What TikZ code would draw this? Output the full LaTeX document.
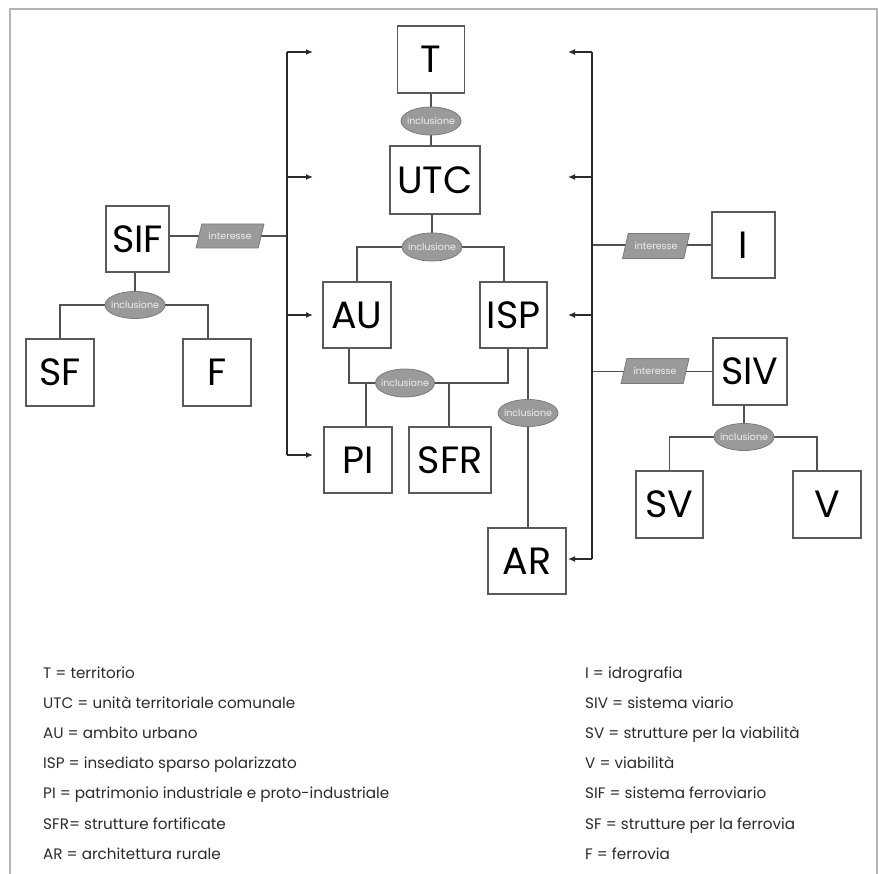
\documentclass[tikz,border=0pt]{standalone}
\usepackage{fontspec}
\setmainfont{Poppins}
\usetikzlibrary{shapes.geometric,arrows.meta,backgrounds}
\definecolor{boxc}{HTML}{5A5A5A}
\definecolor{linec}{HTML}{505050}
\definecolor{ellf}{HTML}{9A9A9A}
\definecolor{ellc}{HTML}{7A7A7A}
\definecolor{framec}{HTML}{B4B4B4}
\definecolor{legc}{HTML}{2A2A2A}
\definecolor{arrc}{HTML}{2A2A2A}
\newcommand{\inclt}{\makebox[30pt][c]{inclusione}}
\newcommand{\intert}{\makebox[30pt][c]{interesse}}
\begin{document}
\begin{tikzpicture}[x=1pt,y=-1pt,
  box/.style={draw=boxc, line width=1.3pt, fill=white, inner sep=0pt, text=black,
    font=\fontsize{38}{38}\selectfont, minimum height=67pt},
  incl/.style={ellipse, draw=ellc, fill=ellf, line width=0.8pt, minimum width=60pt,
    minimum height=28pt, inner sep=0pt, text=white!94!black, font=\fontsize{9.5}{10}\selectfont},
  inter/.style={trapezium, trapezium left angle=67, trapezium right angle=113,
    trapezium stretches=true, draw=ellc, fill=ellf, line width=0.8pt,
    minimum width=68pt, minimum height=24pt, inner sep=0pt, text=white!94!black,
    font=\fontsize{9.5}{10}\selectfont},
  conn/.style={draw=linec, line width=1.3pt},
  trunk/.style={draw=arrc, line width=1.3pt},
  arr/.style={draw=arrc, line width=1.3pt, -{Latex[length=7pt,width=6pt]}},
  leg/.style={anchor=base west, inner sep=0pt, text=legc, font=\fontsize{15.2}{15}\selectfont}]
\useasboundingbox (0,0) rectangle (878,874);
\draw[framec, line width=1.5pt] (10,874) -- (10,9) -- (877,9) -- (877,874);

% boxes
\node[box, minimum width=67pt] (T) at (431,59.5) {T};
\node[box, minimum width=90pt, minimum height=68pt] (UTC) at (435,180) {UTC};
\node[box, minimum width=68pt, minimum height=66pt] (AU) at (357,315) {AU};
\node[box, minimum width=67pt, minimum height=66pt] (ISP) at (513.5,315) {ISP};
\node[box, minimum width=68pt, minimum height=66pt] (PI) at (358,460) {PI};
\node[box, minimum width=82pt, minimum height=66pt] (SFR) at (450,460) {SFR};
\node[box, minimum width=78pt, minimum height=66pt] (AR) at (527,561) {AR};
\node[box, minimum width=63pt, minimum height=66pt] (SIF) at (137.5,239) {SIF};
\node[box, minimum width=68pt] (SF) at (60,372.5) {SF};
\node[box, minimum width=68pt] (F) at (217,372.5) {F};
\node[box, minimum width=63pt, minimum height=66pt] (I) at (743.5,245) {I};
\node[box, minimum width=74pt] (SIV) at (750,371.5) {SIV};
\node[box, minimum width=67pt] (SV) at (669.5,504.5) {SV};
\node[box, minimum width=68pt] (V) at (827,504.5) {V};

% ellipses
\node[incl] (e1) at (431,121) {\inclt};
\node[incl] (e2) at (432,247) {\inclt};
\node[incl, minimum width=59pt] (e3) at (405,383) {\inclt};
\node[incl, minimum height=27pt] (e4) at (528,413) {\inclt};
\node[incl, minimum height=27pt] (e5) at (135,305) {\inclt};
\node[incl, minimum height=27pt] (e6) at (744,437) {\inclt};

% parallelograms
\node[inter] (p1) at (230,236) {\intert};
\node[inter, minimum width=67pt, minimum height=25pt] (p2) at (656,246) {\intert};
\node[inter, minimum height=25pt] (p3) at (655,371) {\intert};

% helper coordinates
\coordinate (jISPa) at (504,0);
\coordinate (jAUb) at (349,0);
\coordinate (jISPb) at (508,0);
\coordinate (jPI) at (366,0);
\coordinate (jSFR) at (449,0);
\coordinate (jF) at (208,0);
\coordinate (jV) at (817,0);
\coordinate (Ltop) at (287,52);
\coordinate (Lbot) at (287,455);
\coordinate (aT) at (313,52);
\coordinate (aUTC) at (313,177);
\coordinate (aAU) at (313,315);
\coordinate (aPI) at (313,455);
\coordinate (Rtop) at (592,52);
\coordinate (Rbot) at (592,559);
\coordinate (bT) at (568,52);
\coordinate (bUTC) at (568,177);
\coordinate (bISP) at (568,315);
\coordinate (bAR) at (568,559);

\begin{pgfonlayer}{background}
  \draw[conn] (e1 |- T.south) -- (e1 |- UTC.north);
  \draw[conn] (e2 |- UTC.south) -- (e2);
  \draw[conn] (AU.north) -- (AU.north |- e2) -- (jISPa |- e2) -- (jISPa |- ISP.north);
  \draw[conn] (jAUb |- AU.south) -- (jAUb |- e3) -- (jISPb |- e3) -- (jISPb |- ISP.south);
  \draw[conn] (jPI |- e3) -- (jPI |- PI.north);
  \draw[conn] (jSFR |- e3) -- (jSFR |- SFR.north);
  \draw[conn] (e4 |- ISP.south) -- (e4 |- AR.north);
  \draw[conn] (e5 |- SIF.south) -- (e5);
  \draw[conn] (SF.north) -- (SF.north |- e5) -- (jF |- e5) -- (jF |- F.north);
  \draw[conn] (SIF.east |- p1) -- (Ltop |- p1);
  \draw[conn] (Rtop |- I) -- (I.west);
  \draw[conn] (Rtop |- SIV) -- (SIV.west);
  \draw[conn] (e6 |- SIV.south) -- (e6);
  \draw[conn] (SV.north) -- (SV.north |- e6) -- (jV |- e6) -- (jV |- V.north);
\end{pgfonlayer}

% trunks and arrows
\draw[trunk] (Ltop) -- (Lbot);
\draw[arr] (Ltop) -- (aT);
\draw[arr] (Ltop |- aUTC) -- (aUTC);
\draw[arr] (Ltop |- aAU) -- (aAU);
\draw[arr] (Lbot) -- (aPI);
\draw[trunk] (Rtop) -- (Rbot);
\draw[arr] (Rtop) -- (bT);
\draw[arr] (Rtop |- bUTC) -- (bUTC);
\draw[arr] (Rtop |- bISP) -- (bISP);
\draw[arr] (Rbot) -- (bAR);

% legend
\node[leg] (l1) at (43,678) {T = territorio};
\node[leg] (l2) at (43,708) {UTC = unità territoriale comunale};
\node[leg] (l3) at (43,738) {AU = ambito urbano};
\node[leg] (l4) at (43,768) {ISP = insediato sparso polarizzato};
\node[leg] (l5) at (43,798) {PI = patrimonio industriale e proto-industriale};
\node[leg] (l6) at (43,829) {SFR= strutture fortificate};
\node[leg] (l7) at (43,859) {AR = architettura rurale};
\node[leg] (r1) at (585,678) {I = idrografia};
\node[leg] (r2) at (585,708) {SIV = sistema viario};
\node[leg] (r3) at (585,738) {SV = strutture per la viabilità};
\node[leg] (r4) at (585,768) {V = viabilità};
\node[leg] (r5) at (585,798) {SIF = sistema ferroviario};
\node[leg] (r6) at (585,829) {SF = strutture per la ferrovia};
\node[leg] (r7) at (585,859) {F = ferrovia};
\end{tikzpicture}
\end{document}
